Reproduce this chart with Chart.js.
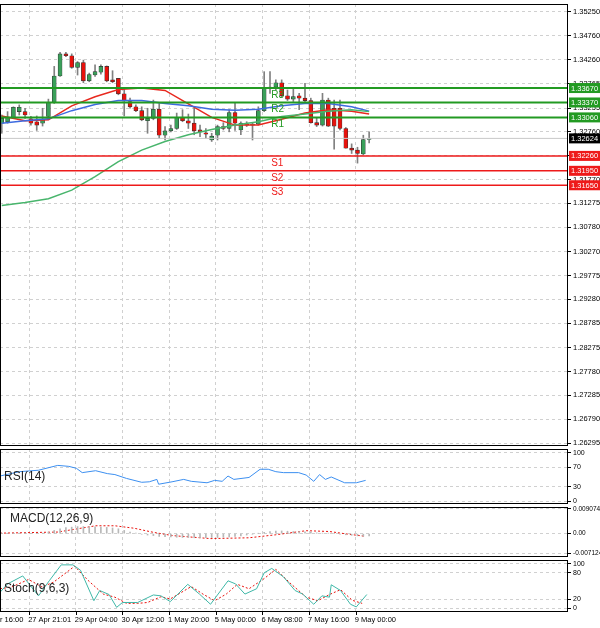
<!DOCTYPE html>
<html><head><meta charset="utf-8">
<script src="https://cdn.jsdelivr.net/npm/chart.js@4.4.1/dist/chart.umd.min.js"></script>
<style>
html,body{margin:0;padding:0;background:#fff;width:600px;height:628px;overflow:hidden;font-family:"Liberation Sans",Arial,sans-serif}
.p{position:absolute;left:0;width:600px}
.t{position:absolute;font-size:12px;color:#222}
</style></head><body>
<div class="p" style="top:0;height:447px"><canvas id="main"></canvas></div>
<div class="p" style="top:447px;height:58px"><canvas id="rsi"></canvas></div>
<div class="p" style="top:505px;height:53px"><canvas id="macd"></canvas></div>
<div class="p" style="top:558px;height:70px"><canvas id="stoch"></canvas></div>
<div class="t" style="left:4px;top:469px">RSI(14)</div>
<div class="t" style="left:10px;top:511px">MACD(12,26,9)</div>
<div class="t" style="left:4px;top:581px">Stoch(9,6,3)</div>
<script>
// ---------- DATA ----------
const opens  = [1.3294,1.3297,1.3306,1.3318,1.3318,1.3303,1.3297,1.3294,1.3308,1.3337,1.3392,1.3438,1.3434,1.3410,1.3420,1.3382,1.3394,1.3400,1.3412,1.3384,1.3387,1.3355,1.3339,1.3328,1.3320,1.3299,1.3304,1.3323,1.3269,1.3278,1.3283,1.3306,1.3299,1.3294,1.3280,1.3274,1.3259,1.3269,1.3287,1.3283,1.3316,1.3280,1.3292,1.3290,1.3292,1.3320,1.3367,1.3369,1.3378,1.3351,1.3344,1.3351,1.3346,1.3341,1.3295,1.3290,1.3342,1.3325,1.3325,1.3283,1.3242,1.3238,1.3230,1.3260];
const highs  = [1.3311,1.3318,1.3328,1.3332,1.3325,1.3308,1.3309,1.3325,1.3344,1.3412,1.3441,1.3441,1.3438,1.3422,1.3425,1.3398,1.3415,1.3415,1.3413,1.3403,1.3387,1.3364,1.3346,1.3332,1.3328,1.3325,1.3342,1.3335,1.3287,1.3290,1.3315,1.3322,1.3313,1.3325,1.3290,1.3283,1.3273,1.3290,1.3295,1.3322,1.3337,1.3297,1.3297,1.3294,1.3328,1.3401,1.3401,1.3384,1.3384,1.3363,1.3367,1.3356,1.3377,1.3346,1.3304,1.3356,1.3346,1.3342,1.3342,1.3285,1.3251,1.3244,1.3269,1.3276];
const lows   = [1.3273,1.3294,1.3304,1.3311,1.3304,1.3290,1.3279,1.3288,1.3301,1.3335,1.3391,1.3432,1.3408,1.3394,1.3378,1.3380,1.3391,1.3396,1.3380,1.3378,1.3353,1.3309,1.3325,1.3318,1.3299,1.3273,1.3301,1.3263,1.3259,1.3276,1.3281,1.3297,1.3283,1.3270,1.3266,1.3263,1.3256,1.3259,1.3280,1.3276,1.3279,1.3270,1.3287,1.3259,1.3290,1.3318,1.3356,1.3363,1.3348,1.3341,1.3339,1.3322,1.3335,1.3294,1.3287,1.3288,1.3287,1.3240,1.3280,1.3242,1.3231,1.3211,1.3228,1.3253];
const closes = [1.3304,1.3306,1.3327,1.3327,1.3311,1.3294,1.3290,1.3302,1.3337,1.3392,1.3438,1.3434,1.3410,1.3420,1.3382,1.3395,1.3401,1.3412,1.3382,1.3380,1.3355,1.3341,1.3328,1.3320,1.3301,1.3304,1.3323,1.3269,1.3278,1.3283,1.3306,1.3299,1.3294,1.3278,1.3276,1.3271,1.3267,1.3287,1.3283,1.3316,1.3294,1.3294,1.3290,1.3292,1.3320,1.3367,1.3369,1.3378,1.3351,1.3344,1.3349,1.3346,1.3341,1.3295,1.3290,1.3342,1.3288,1.3288,1.3283,1.3242,1.3238,1.3231,1.3260,1.3262];
const maIdx   = [0,4,8,12,16,20,24,28,32,36,40,44,48,52,56,60,63];
const maFast  = [1.3309,1.3299,1.3301,1.3330,1.3349,1.3364,1.3367,1.3362,1.3334,1.3306,1.3290,1.3290,1.3302,1.3315,1.3322,1.3319,1.3313];
const maMid   = [1.3294,1.3299,1.3303,1.3320,1.3333,1.3341,1.3341,1.3335,1.3330,1.3323,1.3321,1.3323,1.3330,1.3335,1.3335,1.3328,1.3319];
const maSlow  = [1.3123,1.3129,1.3137,1.3155,1.3183,1.3214,1.3238,1.3256,1.3270,1.3281,1.3290,1.3297,1.3308,1.3313,1.3319,1.3322,1.3318];
const resistance = [1.3367,1.3337,1.3306];
const resistanceNames = ["R3","R2","R1"];
const support = [1.3226,1.3195,1.3165];
const supportNames = ["S1","S2","S3"];
const lastPrice = 1.32624;
const priceTicks = [1.35250,1.34760,1.34260,1.33765,1.33255,1.32760,1.32265,1.31770,1.31275,1.30780,1.30270,1.29775,1.29280,1.28785,1.28275,1.27780,1.27285,1.26790,1.26295];
const rsiX = [-0.3,3.0,6.3,9.6,11.5,12.8,13.8,16.1,18.1,19.4,21.4,24,25.3,26.6,26.9,29.2,31.2,32.5,35.2,36.5,37.8,38.8,39.8,42.4,44.3,45.7,47,48.3,50.9,52.2,53.5,54.5,55.5,56.5,58.8,60.8,62.4];
const rsiV = [52,61,64,74,72,68,59,63,57,55,47,39,40,45,35,40,45,41,38,43,41,52,45,49,66,66,61,59,59,54,41,55,45,50,38,38,43];
const macdHist = [0.0001,0.0001,0.0001,0.0002,0.0001,0,0,0.0002,0.0006,0.0012,0.0018,0.0022,0.0024,0.0026,0.0026,0.0025,0.0025,0.0024,0.0023,0.0021,0.0018,0.0012,0.0006,0.0002,-0.0002,-0.0005,-0.0007,-0.0010,-0.0011,-0.0012,-0.0013,-0.0014,-0.0014,-0.0015,-0.0015,-0.0015,-0.0014,-0.0014,-0.0013,-0.0012,-0.0010,-0.0008,-0.0005,-0.0002,0.0001,0.0005,0.0008,0.0010,0.0010,0.0009,0.0008,0.0008,0.0007,0.0006,0.0003,0.0002,0.0002,0,-0.0002,-0.0004,-0.0006,-0.0008,-0.0009,-0.0008];
const macdSigX = [-0.3,9.6,16.1,19.4,22.7,26,29.3,35.8,42.4,47,52.2,56.2,58.8,62.1];
const macdSigV = [0.0002,0.0006,0.0029,0.0029,0.0020,0.0005,-0.0007,-0.0018,-0.0015,-0.0004,0.0011,0.0008,0,-0.0009];
const stochX = [-0.3,1.0,3.6,6.3,8.2,10.2,12.2,13.5,15.8,16.8,18.4,19.7,20.7,23.3,26,27.3,28.9,31.9,33.9,35.8,38.8,40.1,41.7,43.7,45,46.3,48.3,50.3,51.6,53.5,54.9,56.2,56.5,58.1,59.8,60.8,62.6];
const stochK = [36,55,73,28,63,98,98,86,17,40,31,2,13,13,30,28,15,54,32,9,62,55,32,44,80,90,71,40,32,9,28,25,53,40,9,3,31];
const stochDX = [-0.3,1.7,4.6,6.9,8.9,12.5,14.8,17.4,19.4,21.4,23.3,25,27.3,28.9,32.5,34.5,36.5,38.5,40.4,42.4,45,47,49.6,52.2,54.2,56.2,58.1,60.1,61.8];
const stochD = [44,48,65,48,59,95,63,32,25,11,11,13,26,21,49,32,17,32,54,44,67,88,55,25,17,31,42,18,11];
const dateTicks = [-0.3,4.7,12.7,20.7,28.7,36.7,44.7,52.7,60.7];
const dateLabels = ["r 16:00","27 Apr 21:01","29 Apr 04:00","30 Apr 12:00","1 May 20:00","5 May 00:00","6 May 08:00","7 May 16:00","9 May 00:00"];

// ---------- helpers ----------
const XMIN=-0.3, XMAX=97.1, AXW=32;
const gridCol='#d0d0d0';
function xScale(){
  return {type:'linear',min:XMIN,max:XMAX,display:true,offset:false,
    afterFit:s=>{s.height=0;s.paddingLeft=0;s.paddingRight=0;},
    afterBuildTicks:s=>{s.ticks=dateTicks.filter(v=>v>0).map(v=>({value:v}));},
    grid:{color:gridCol,drawTicks:false,offset:false},border:{display:false,dash:[3,3]},
    ticks:{display:false}};
}
function yScale(min,max,ticks,fmt,fs){
  return {position:'right',min,max,
    afterFit:s=>{s.width=AXW;s.paddingTop=0;s.paddingBottom=0;},
    afterBuildTicks:s=>{s.ticks=ticks.map(v=>({value:v}));},
    grid:{color:gridCol,drawTicks:true,tickLength:3,tickColor:'#000'},
    border:{display:false,dash:[3,3]},
    ticks:{font:{family:"Liberation Sans",size:fs||7.5},color:'#000',padding:2,callback:fmt,autoSkip:false}};
}
const frame={id:'frame',afterDraw(c){const a=c.chartArea,x=c.ctx;x.save();x.setLineDash([]);x.strokeStyle='#000';x.lineWidth=1;
  x.strokeRect(Math.floor(a.left)+0.5,Math.floor(a.top)+0.5,Math.round(a.right-a.left)-1,Math.round(a.bottom-a.top)-1);x.restore();}};
const baseOpts={responsive:false,animation:false,maintainAspectRatio:false,plugins:{legend:{display:false},tooltip:{enabled:false}},layout:{padding:0}};

function mk(id,h){const cv=document.getElementById(id);cv.width=600;cv.height=h;cv.style.width='600px';cv.style.height=h+'px';return cv;}

// ---------- main ----------
const idx=opens.map((_,i)=>i);
const bodies=idx.map(i=>{let a=Math.min(opens[i],closes[i]),b=Math.max(opens[i],closes[i]);if(b-a<0.00004){b=a+0.00004;}return {x:i,y:[a,b]};});
const wicks=idx.map(i=>({x:i,y:[lows[i],highs[i]]}));
const bodyCol=idx.map(i=>closes[i]>=opens[i]?'#3aa05a':'#e8120c');
const hl=(v,col,w)=>({type:'line',data:[{x:XMIN,y:v},{x:XMAX,y:v}],borderColor:col,borderWidth:w,pointRadius:0,order:0});
const ds=[
  {type:'bar',data:wicks,backgroundColor:'#808080',barThickness:1,grouped:false,order:3},
  {type:'bar',data:bodies,backgroundColor:bodyCol,borderColor:'#333',borderWidth:0.6,borderSkipped:false,barThickness:4,grouped:false,order:2},
  {type:'line',data:maIdx.map((v,i)=>({x:v,y:maSlow[i]})),borderColor:'#48b56c',borderWidth:1.5,pointRadius:0,order:1},
  {type:'line',data:maIdx.map((v,i)=>({x:v,y:maMid[i]})),borderColor:'#3d6be0',borderWidth:1.5,pointRadius:0,order:1},
  {type:'line',data:maIdx.map((v,i)=>({x:v,y:maFast[i]})),borderColor:'#e8281e',borderWidth:1.5,pointRadius:0,order:1},
  hl(lastPrice,'#c8c8c8',1),
  ...resistance.map(v=>hl(v,'#229a22',2)),
  ...support.map(v=>hl(v,'#ee1a1a',1.5)),
];
const levelLabels={id:'lv',afterDraw(c){const x=c.ctx,ys=c.scales.y,xs=c.scales.x;x.save();x.font='7.5px "Liberation Sans"';x.textBaseline='middle';
  const box=(v,bg,fg,t)=>{const py=ys.getPixelForValue(v);x.fillStyle=bg;x.fillRect(569,py-5,31,10);x.fillStyle=fg;x.fillText(t,571,py+0.5);};
  resistance.forEach(v=>box(v,'#229a22','#fff',v.toFixed(5)));
  support.forEach(v=>box(v,'#ee1a1a','#fff',v.toFixed(5)));
  box(lastPrice,'#000','#fff',lastPrice.toFixed(5));
  x.font='10px "Liberation Sans"';x.textBaseline='top';const lx=xs.getPixelForValue(46.2);
  resistance.forEach((v,i)=>{x.fillStyle='#229a22';x.fillText(resistanceNames[i],lx,ys.getPixelForValue(v)+2);});
  support.forEach((v,i)=>{x.fillStyle='#ee1a1a';x.fillText(supportNames[i],lx,ys.getPixelForValue(v)+2);});
  x.restore();}};
new Chart(mk('main',447),{data:{datasets:ds},options:{...baseOpts,layout:{padding:{top:4,bottom:1}},
  scales:{x:xScale(),y:yScale(1.26233,1.35416,priceTicks,v=>v.toFixed(5))}},plugins:[frame,levelLabels]});

// ---------- RSI ----------
new Chart(mk('rsi',58),{type:'line',data:{datasets:[{data:rsiX.map((v,i)=>({x:v,y:rsiV[i]})),borderColor:'#3c8ff0',borderWidth:1,pointRadius:0}]},
  options:{...baseOpts,layout:{padding:{top:2,bottom:1}},scales:{x:xScale(),y:yScale(-6,108,[100,70,30,0],v=>String(v),7)}},plugins:[frame]});

// ---------- MACD ----------
new Chart(mk('macd',53),{data:{datasets:[
  {type:'bar',data:macdHist.map((v,i)=>({x:i,y:v})),backgroundColor:'#b8b8b8',barThickness:1,grouped:false},
  {type:'line',data:macdSigX.map((v,i)=>({x:v,y:macdSigV[i]})),borderColor:'#e8120c',borderWidth:1,borderDash:[2,2],pointRadius:0}]},
  options:{...baseOpts,layout:{padding:{top:2,bottom:1}},scales:{x:xScale(),y:yScale(-0.00854,0.00978,[0.009074,0,-0.007124],v=>v===0?'0.00':String(v),6.5)}},plugins:[frame]});

// ---------- Stoch ----------
new Chart(mk('stoch',70),{type:'line',data:{datasets:[
  {data:stochX.map((v,i)=>({x:v,y:stochK[i]})),borderColor:'#3fb8a8',borderWidth:1,pointRadius:0},
  {data:stochDX.map((v,i)=>({x:v,y:stochD[i]})),borderColor:'#e8120c',borderWidth:1,borderDash:[2,2],pointRadius:0}]},
  options:{...baseOpts,layout:{padding:{top:2,bottom:16}},scales:{x:xScale(),y:yScale(-8.5,109,[100,80,20,0],v=>String(v),7)}},
  plugins:[frame,{id:'dates',afterDraw(c){const x=c.ctx,xs=c.scales.x;x.save();x.font='7.5px "Liberation Sans"';x.fillStyle='#000';x.textBaseline='top';
    dateTicks.forEach((v,i)=>{const px=i===0?0:xs.getPixelForValue(v)-1;x.fillText(dateLabels[i],px,c.chartArea.bottom+4);
      if(i>0){x.fillRect(Math.round(xs.getPixelForValue(v)),c.chartArea.bottom,1,3);}});x.restore();}}]});
</script>
</body></html>
